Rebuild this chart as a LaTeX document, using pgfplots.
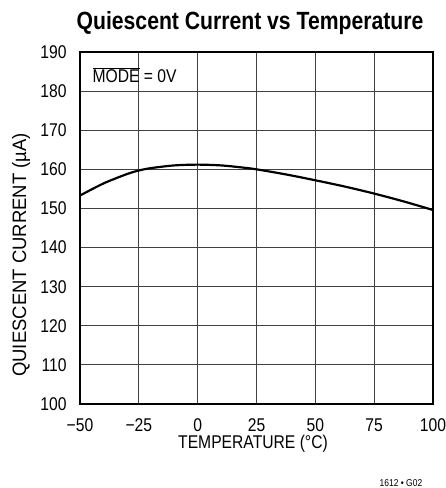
\documentclass[border=0pt]{standalone}
\usepackage{fontspec}
\setmainfont{Liberation Sans}[FakeStretch=0.85]
\newfontfamily\widefont{Liberation Sans}[FakeStretch=0.95]
\usepackage{pgfplots}
\pgfplotsset{compat=1.18}
\begin{document}
\begin{tikzpicture}[x=1bp,y=1bp]
\path[use as bounding box] (-80,-84) rectangle (366,404);
\begin{axis}[
  at={(0,0)}, anchor=south west,
  scale only axis, width=353bp, height=352bp,
  xmin=-50, xmax=100, ymin=100, ymax=190,
  xtick={-50,-25,0,25,50,75,100},
  xticklabels={−50,−25,0,25,50,75,100},
  ytick={100,110,...,190},
  grid=major,
  major grid style={line width=0.8pt, black!75},
  axis line style={line width=1.1pt},
  tick style={draw=none},
  /pgf/number format/assume math mode=true,
  ticklabel style={font=\fontsize{18.5}{20}\selectfont},
  xticklabel style={yshift=-11bp},
  yticklabel style={xshift=-10bp},
  clip=false,
]
\addplot[line width=2.2pt, black, smooth, tension=0.5] coordinates {
(-50,153.3) (-40,156.4) (-30,158.8) (-25,159.7) (-20,160.3) (-10,161.0) (0,161.2) (10,161.0) (20,160.4) (25,160.0) (37.5,158.7) (50,157.2) (62.5,155.6) (75,153.8) (87.5,151.8) (100,149.6)
};
\end{axis}
\node[font=\bfseries\fontsize{25}{28}\selectfont] at (170,381) {Quiescent Current vs Temperature};
\node[font=\fontsize{18.5}{20}\selectfont, anchor=west] at (9,329) {$\overline{\mbox{MODE}}$ = 0V};
\node[font=\fontsize{18.5}{20}\selectfont] at (173,-40) {TEMPERATURE (°C)};
\node[font=\widefont\fontsize{19.5}{21}\selectfont, rotate=90] at (-59,149) {QUIESCENT CURRENT (µA)};
\node[font=\fontsize{10}{12}\selectfont] at (321,-79) {1612 • G02};
\end{tikzpicture}
\end{document}
